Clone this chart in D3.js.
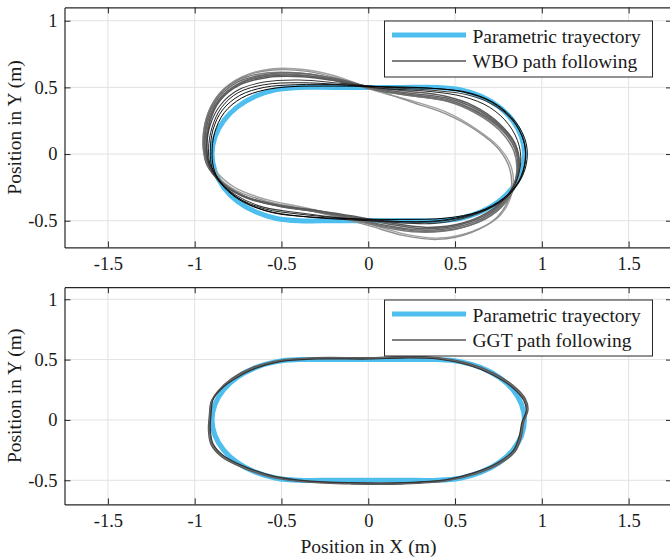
<!DOCTYPE html>
<html>
<head>
<meta charset="utf-8">
<script src="https://cdn.jsdelivr.net/npm/d3@7"></script>
<style>
  body { margin: 0; background: #fff; }
  text { font-family: "Liberation Serif", "Times New Roman", serif; fill: #1a1a1a; }
</style>
</head>
<body>
<svg id="chart" width="670" height="557"></svg>
<script>
// tick labels
var xTicks = [-1.5, -1, -0.5, 0, 0.5, 1, 1.5];
var yTicks = [-0.5, 0, 0.5, 1];

// reference (parametric) trajectory
var refPath = [
  [-0.4,0.5],[-0.2,0.5],[0,0.5],[0.2,0.5],[0.4,0.5],
  [0.529,0.483],[0.65,0.433],[0.754,0.354],[0.833,0.25],[0.883,0.129],[0.9,0],
  [0.883,-0.129],[0.833,-0.25],[0.754,-0.354],[0.65,-0.433],[0.529,-0.483],
  [0.4,-0.5],[0.2,-0.5],[0,-0.5],[-0.2,-0.5],[-0.4,-0.5],
  [-0.529,-0.483],[-0.65,-0.433],[-0.754,-0.354],[-0.833,-0.25],[-0.883,-0.129],[-0.9,0],
  [-0.883,0.129],[-0.833,0.25],[-0.754,0.354],[-0.65,0.433],[-0.529,0.483]
];

// WBO laps (top panel)
var wboLap1 = [[-0.9,0.0],[-0.885,0.16],[-0.83,0.31],[-0.73,0.42],[-0.6,0.48],[-0.45,0.505],[-0.2,0.51],[0.1,0.505],[0.35,0.495],[0.55,0.465],[0.71,0.39],[0.83,0.26],[0.895,0.1],[0.905,-0.05],[0.87,-0.2],[0.78,-0.33],[0.64,-0.43],[0.45,-0.48],[0.2,-0.49],[-0.1,-0.485],[-0.35,-0.47],[-0.55,-0.44],[-0.72,-0.36],[-0.83,-0.25],[-0.885,-0.13]];
var wboLap2 = [[-0.91,0.02],[-0.895,0.18],[-0.84,0.33],[-0.74,0.44],[-0.6,0.5],[-0.42,0.52],[-0.15,0.52],[0.15,0.5],[0.4,0.49],[0.58,0.46],[0.73,0.38],[0.85,0.24],[0.91,0.08],[0.91,-0.08],[0.86,-0.23],[0.76,-0.36],[0.6,-0.45],[0.4,-0.5],[0.15,-0.505],[-0.15,-0.49],[-0.4,-0.465],[-0.6,-0.42],[-0.75,-0.33],[-0.85,-0.21],[-0.9,-0.1]];
var wboLap3 = [[-0.92,0.04],[-0.9,0.2],[-0.845,0.35],[-0.75,0.46],[-0.6,0.52],[-0.4,0.535],[-0.15,0.52],[0.1,0.49],[0.35,0.47],[0.55,0.43],[0.7,0.35],[0.81,0.22],[0.87,0.06],[0.875,-0.1],[0.83,-0.26],[0.72,-0.39],[0.56,-0.47],[0.35,-0.51],[0.1,-0.5],[-0.15,-0.48],[-0.4,-0.45],[-0.6,-0.41],[-0.76,-0.32],[-0.86,-0.2],[-0.91,-0.08]];
var wboLap4 = [[-0.93,0.05],[-0.91,0.22],[-0.85,0.37],[-0.75,0.48],[-0.6,0.54],[-0.4,0.555],[-0.15,0.53],[0.1,0.5],[0.35,0.48],[0.57,0.445],[0.72,0.37],[0.84,0.24],[0.9,0.08],[0.9,-0.08],[0.85,-0.24],[0.75,-0.37],[0.58,-0.47],[0.38,-0.52],[0.12,-0.51],[-0.15,-0.48],[-0.4,-0.44],[-0.6,-0.4],[-0.76,-0.31],[-0.87,-0.19],[-0.92,-0.07]];
var wboLap5 = [[-0.94,0.05],[-0.925,0.24],[-0.86,0.41],[-0.74,0.53],[-0.57,0.585],[-0.37,0.59],[-0.15,0.55],[0.05,0.49],[0.25,0.455],[0.45,0.42],[0.62,0.34],[0.76,0.21],[0.85,0.06],[0.865,-0.1],[0.82,-0.28],[0.71,-0.43],[0.53,-0.53],[0.32,-0.56],[0.1,-0.52],[-0.1,-0.47],[-0.3,-0.43],[-0.5,-0.395],[-0.7,-0.33],[-0.84,-0.22],[-0.92,-0.08]];
var wboLap6 = [[-0.945,0.04],[-0.93,0.25],[-0.865,0.42],[-0.745,0.545],[-0.57,0.6],[-0.37,0.605],[-0.15,0.555],[0.05,0.485],[0.25,0.445],[0.45,0.41],[0.62,0.325],[0.76,0.2],[0.845,0.04],[0.86,-0.12],[0.815,-0.3],[0.7,-0.45],[0.52,-0.545],[0.3,-0.57],[0.08,-0.53],[-0.12,-0.47],[-0.32,-0.42],[-0.52,-0.385],[-0.71,-0.32],[-0.85,-0.21],[-0.93,-0.08]];
var wboLap7 = [[-0.935,0.06],[-0.915,0.25],[-0.85,0.42],[-0.73,0.54],[-0.56,0.595],[-0.36,0.59],[-0.14,0.535],[0.06,0.475],[0.26,0.435],[0.46,0.395],[0.63,0.31],[0.77,0.18],[0.855,0.02],[0.865,-0.14],[0.82,-0.31],[0.71,-0.46],[0.53,-0.555],[0.31,-0.58],[0.09,-0.54],[-0.11,-0.48],[-0.31,-0.43],[-0.51,-0.39],[-0.7,-0.325],[-0.84,-0.215],[-0.92,-0.07]];
var wboLap8 = [[-0.95,0.03],[-0.935,0.25],[-0.865,0.44],[-0.73,0.575],[-0.55,0.63],[-0.35,0.62],[-0.15,0.56],[0.05,0.48],[0.25,0.39],[0.45,0.3],[0.62,0.18],[0.75,0.04],[0.815,-0.11],[0.82,-0.29],[0.745,-0.47],[0.59,-0.59],[0.4,-0.64],[0.2,-0.61],[0,-0.535],[-0.2,-0.465],[-0.4,-0.405],[-0.6,-0.35],[-0.78,-0.26],[-0.9,-0.12]];
var wboLap9 = [[-0.945,0.04],[-0.93,0.26],[-0.86,0.45],[-0.725,0.58],[-0.55,0.64],[-0.35,0.63],[-0.15,0.57],[0.05,0.47],[0.25,0.4],[0.45,0.315],[0.62,0.19],[0.755,0.05],[0.825,-0.1],[0.83,-0.28],[0.76,-0.46],[0.6,-0.58],[0.41,-0.63],[0.21,-0.6],[0.01,-0.525],[-0.19,-0.455],[-0.39,-0.395],[-0.59,-0.34],[-0.77,-0.25],[-0.89,-0.11]];
var wboLap10 = [[-0.93,0.03],[-0.915,0.23],[-0.855,0.4],[-0.74,0.52],[-0.58,0.575],[-0.38,0.58],[-0.16,0.545],[0.04,0.5],[0.24,0.47],[0.44,0.435],[0.61,0.36],[0.75,0.235],[0.845,0.08],[0.87,-0.08],[0.83,-0.26],[0.72,-0.41],[0.55,-0.515],[0.34,-0.55],[0.12,-0.515],[-0.09,-0.465],[-0.29,-0.425],[-0.49,-0.39],[-0.69,-0.33],[-0.835,-0.225],[-0.91,-0.09]];
var wboLap11 = [[-0.95,0.06],[-0.935,0.26],[-0.87,0.43],[-0.75,0.555],[-0.575,0.61],[-0.375,0.605],[-0.155,0.555],[0.045,0.48],[0.245,0.44],[0.445,0.4],[0.615,0.31],[0.755,0.18],[0.84,0.02],[0.855,-0.14],[0.81,-0.32],[0.695,-0.465],[0.515,-0.56],[0.295,-0.585],[0.075,-0.545],[-0.125,-0.48],[-0.325,-0.425],[-0.525,-0.385],[-0.715,-0.315],[-0.855,-0.2],[-0.935,-0.06]];

// GGT laps (bottom panel)
var ggtLap1 = [[-0.91,0.05],[-0.9,0.16],[-0.86,0.24],[-0.78,0.34],[-0.66,0.43],[-0.5,0.49],[-0.3,0.51],[0,0.51],[0.2,0.52],[0.4,0.51],[0.58,0.46],[0.72,0.38],[0.83,0.28],[0.9,0.17],[0.915,0.08],[0.89,-0.02],[0.875,-0.14],[0.84,-0.26],[0.75,-0.36],[0.62,-0.44],[0.45,-0.5],[0.2,-0.525],[-0.1,-0.525],[-0.35,-0.51],[-0.55,-0.47],[-0.72,-0.39],[-0.84,-0.3],[-0.9,-0.2],[-0.915,-0.08]];
var ggtLap2 = [[-0.915,0.04],[-0.905,0.15],[-0.865,0.24],[-0.785,0.345],[-0.665,0.435],[-0.5,0.495],[-0.3,0.515],[0,0.515],[0.2,0.525],[0.4,0.515],[0.585,0.465],[0.725,0.385],[0.835,0.285],[0.905,0.175],[0.92,0.085],[0.895,-0.02],[0.88,-0.145],[0.845,-0.265],[0.755,-0.365],[0.625,-0.445],[0.45,-0.505],[0.2,-0.53],[-0.1,-0.53],[-0.35,-0.515],[-0.555,-0.475],[-0.725,-0.395],[-0.845,-0.305],[-0.905,-0.205],[-0.92,-0.09]];
var ggtLap3 = [[-0.905,0.06],[-0.895,0.165],[-0.855,0.245],[-0.775,0.335],[-0.655,0.425],[-0.5,0.485],[-0.3,0.505],[0,0.505],[0.2,0.513],[0.4,0.505],[0.575,0.455],[0.715,0.375],[0.825,0.275],[0.895,0.165],[0.91,0.075],[0.885,-0.02],[0.87,-0.135],[0.835,-0.255],[0.745,-0.355],[0.615,-0.435],[0.45,-0.495],[0.2,-0.52],[-0.1,-0.52],[-0.35,-0.505],[-0.545,-0.465],[-0.715,-0.385],[-0.835,-0.295],[-0.895,-0.195],[-0.91,-0.07]];

var wboLaps = [wboLap9, wboLap8, wboLap11, wboLap7, wboLap6, wboLap5, wboLap10, wboLap4, wboLap3, wboLap2, wboLap1];
var wboShades = ['#a2a2a2', '#909090', '#7c7c7c', '#727272', '#6a6a6a', '#626262', '#5a5a5a', '#3a3a3a', '#222222', '#111111', '#000000'];
var wboWidths = [1.4, 1.4, 1.5, 1.5, 1.5, 1.5, 1.5, 1.1, 1, 1, 1];
var ggtLaps = [ggtLap2, ggtLap1, ggtLap3];
var ggtShades = ['#555555', '#6a6a6a', '#333333'];
var ggtWidths = [1.5, 1.5, 1.2];

var legendLabels = ['Parametric trayectory', 'WBO path following', 'GGT path following'];

var svg = d3.select('#chart');
var x = d3.scaleLinear().domain([-1.75, 1.75]).range([64.5, 672]);
var fmt = function(d) { return String(d); };
var axisColor = '#262626';

function drawPanel(top, bottom, laps, shades, widths, label, legShade, legWidth, legTop) {
  var y = d3.scaleLinear().domain([-0.7, 1.1]).range([bottom, top]);
  var g = svg.append('g');

  // grid
  g.append('g').selectAll('line').data(xTicks).join('line')
    .attr('x1', d => x(d)).attr('x2', d => x(d))
    .attr('y1', top).attr('y2', bottom)
    .attr('stroke', '#e2e2e2').attr('stroke-width', 1);
  g.append('g').selectAll('line').data(yTicks).join('line')
    .attr('x1', x.range()[0]).attr('x2', x.range()[1])
    .attr('y1', d => y(d)).attr('y2', d => y(d))
    .attr('stroke', '#e2e2e2').attr('stroke-width', 1);

  var line = d3.line().x(d => x(d[0])).y(d => y(d[1])).curve(d3.curveCatmullRomClosed);

  g.append('path').datum(refPath).attr('d', line)
    .attr('fill', 'none').attr('stroke', '#4DBEEE').attr('stroke-width', 5);

  g.append('g').selectAll('path').data(laps).join('path')
    .attr('d', line)
    .attr('fill', 'none')
    .attr('stroke', (d, i) => shades[i])
    .attr('stroke-width', (d, i) => widths[i]);

  // box with inward ticks
  var axB = g.append('g').attr('transform', 'translate(0,' + bottom + ')')
    .call(d3.axisBottom(x).tickValues(xTicks).tickSize(-6).tickSizeOuter(0).tickPadding(9).tickFormat(fmt));
  var axT = g.append('g').attr('transform', 'translate(0,' + top + ')')
    .call(d3.axisTop(x).tickValues(xTicks).tickSize(-6).tickSizeOuter(0).tickFormat(''));
  var axL = g.append('g').attr('transform', 'translate(' + x.range()[0] + ',0)')
    .call(d3.axisLeft(y).tickValues(yTicks).tickSize(-6).tickSizeOuter(0).tickPadding(7).tickFormat(fmt));
  var axR = g.append('g').attr('transform', 'translate(' + x.range()[1] + ',0)')
    .call(d3.axisRight(y).tickValues(yTicks).tickSize(-6).tickSizeOuter(0).tickFormat(''));
  [axB, axT, axL, axR].forEach(function(a) {
    a.select('.domain').attr('stroke', axisColor).attr('stroke-width', 1.2);
    a.selectAll('.tick line').attr('stroke', axisColor);
    a.selectAll('.tick text').attr('font-size', '18.5px')
      .attr('font-family', '"Liberation Serif", "Times New Roman", serif').attr('fill', '#1a1a1a');
  });

  g.append('text')
    .attr('transform', 'translate(21,' + ((top + bottom) / 2) + ') rotate(-90)')
    .attr('text-anchor', 'middle').attr('font-size', '19.5px')
    .text('Position in Y (m)');

  // legend
  var lg = g.append('g');
  lg.append('rect').attr('x', 384.5).attr('y', legTop).attr('width', 268).attr('height', 56)
    .attr('fill', '#fff').attr('stroke', axisColor).attr('stroke-width', 1);
  lg.append('line').attr('x1', 392).attr('x2', 466).attr('y1', legTop + 14).attr('y2', legTop + 14)
    .attr('stroke', '#4DBEEE').attr('stroke-width', 5);
  lg.append('line').attr('x1', 392).attr('x2', 466).attr('y1', legTop + 40).attr('y2', legTop + 40)
    .attr('stroke', legShade).attr('stroke-width', legWidth);
  lg.append('text').attr('x', 472.5).attr('y', legTop + 21.5).attr('font-size', '19.5px').text(legendLabels[0]);
  lg.append('text').attr('x', 472.5).attr('y', legTop + 46.5).attr('font-size', '19.5px').text(label);
}

drawPanel(7.4, 247.4, wboLaps, wboShades, wboWidths, legendLabels[1], '#555555', 1.5, 21);
drawPanel(287.2, 504.4, ggtLaps, ggtShades, ggtWidths, legendLabels[2], '#000000', 1.2, 300);

svg.append('text').attr('x', 368.5).attr('y', 553).attr('text-anchor', 'middle')
  .attr('font-size', '19.5px').text('Position in X (m)');
</script>
</body>
</html>
